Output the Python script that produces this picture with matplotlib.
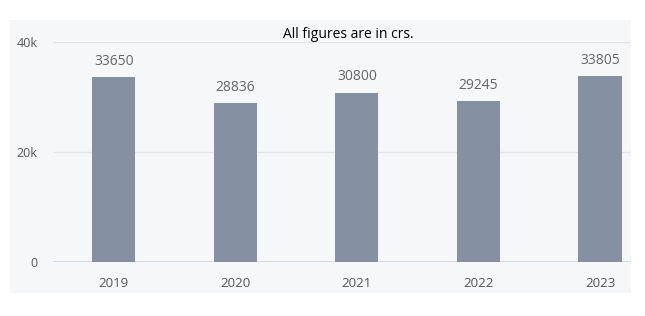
import matplotlib
matplotlib.use("Agg")
import matplotlib.pyplot as plt

years = ["2019", "2020", "2021", "2022", "2023"]
values = [33650, 28836, 30800, 29245, 33805]
yticks = [0, 20000, 40000]
ytick_labels = ["0", "20k", "40k"]
title = "All figures are in crs."

W, H = 645, 316
fig = plt.figure(figsize=(W / 100, H / 100), dpi=100)
fig.patch.set_facecolor("white")

# light panel background as its own axes underneath
bg = fig.add_axes([10 / W, 1 - 293 / H, (631 - 10) / W, (293 - 20) / H], zorder=-5)
bg.set_facecolor("#f6f7f9")
bg.set_xticks([])
bg.set_yticks([])
for s in bg.spines.values():
    s.set_visible(False)

ax = fig.add_axes([53 / W, 1 - 262 / H, (631 - 53) / W, (262 - 42) / H], zorder=1)
ax.set_facecolor("none")
x = list(range(len(years)))
ax.bar(x, values, width=0.355, color="#8591a3", zorder=3)
ax.set_xlim(-0.5, 4.255)
ax.set_ylim(0, 40000)

for xi, v in zip(x, values):
    ax.annotate(str(v), (xi, v), xytext=(0, 6), textcoords="offset points",
                ha="center", va="bottom", fontsize=10, color="#666666",
                family="Open Sans")

ax.set_yticks(yticks)
ax.set_yticklabels(ytick_labels, fontsize=9, color="#555555", family="Open Sans")
ax.set_xticks(x)
ax.set_xticklabels(years, fontsize=9.5, color="#555555", family="Open Sans")
ax.tick_params(axis="both", length=0)
ax.tick_params(axis="y", pad=11)
ax.tick_params(axis="x", pad=11)
for s in ax.spines.values():
    s.set_visible(False)
ax.yaxis.grid(True, color="#e3e5e8", linewidth=1, zorder=1)
ax.set_axisbelow(True)
ax.axhline(0, color="#ccd6eb", linewidth=1.2, zorder=2)

fig.text(348 / W, 1 - 34 / H, title, ha="center", va="center", fontsize=10,
         color="#000000", family="Open Sans")

fig.savefig("out.png", dpi=100, facecolor="white")
